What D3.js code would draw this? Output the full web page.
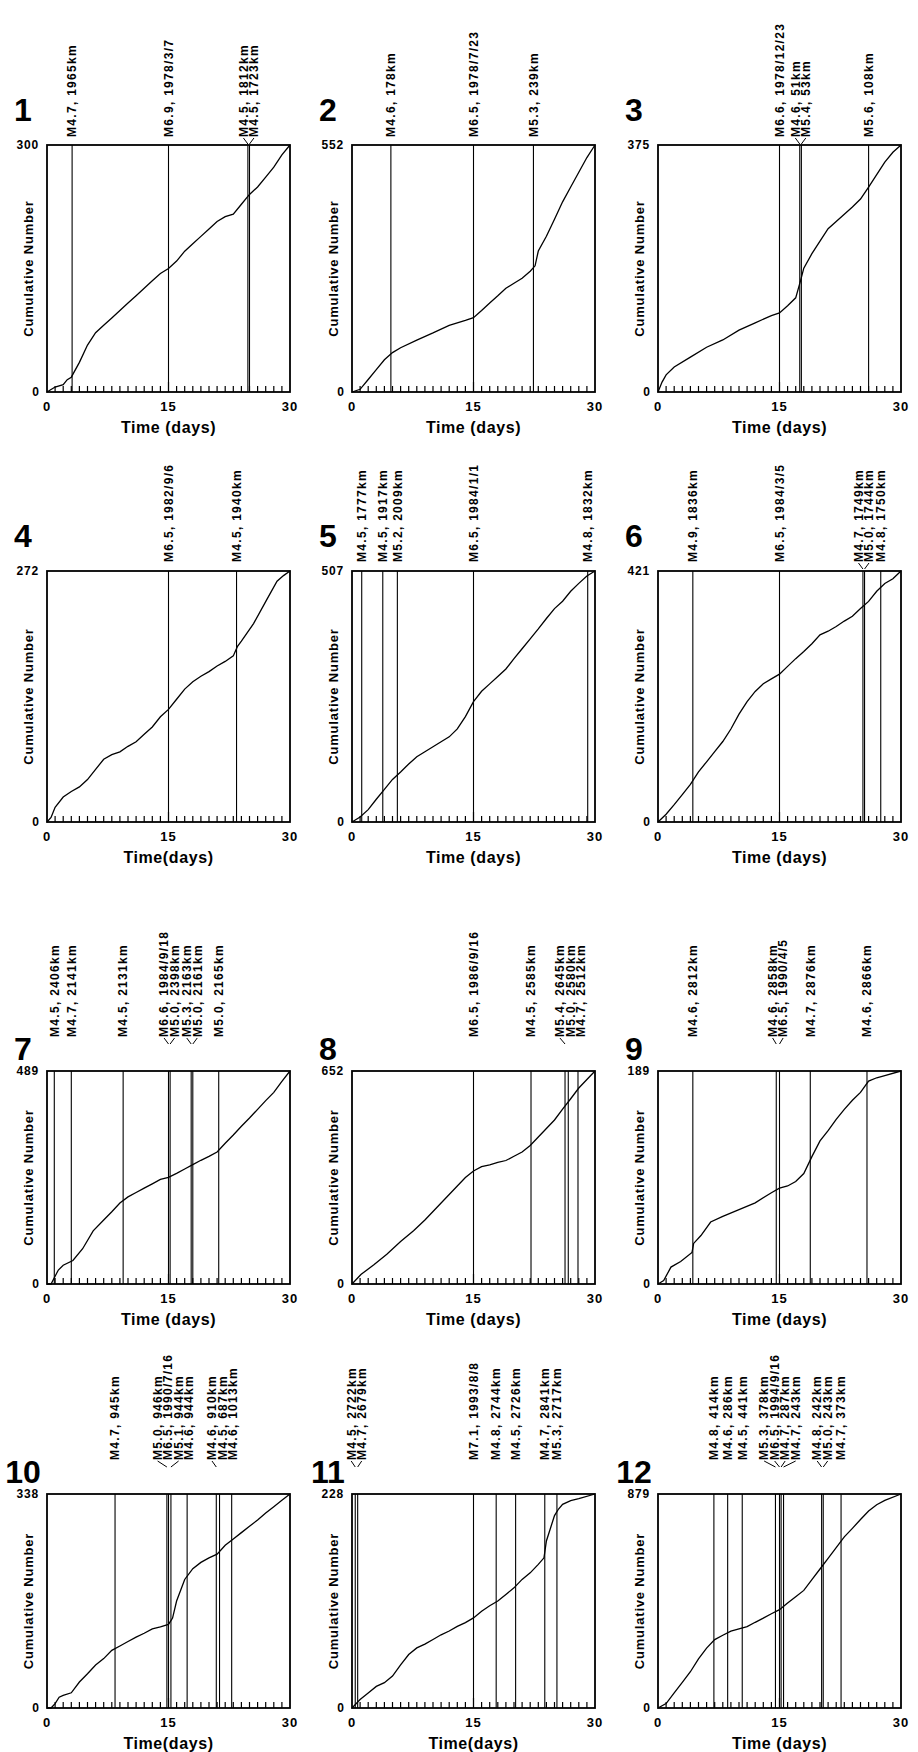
<!DOCTYPE html>
<html>
<head>
<meta charset="utf-8">
<script src="https://cdn.jsdelivr.net/npm/d3@7"></script>
<style>
  body { margin: 0; background: #fff; }
  svg text { font-family: "Liberation Sans", Arial, sans-serif; font-weight: bold; fill: #000; }
</style>
</head>
<body>
<script>
// panel numbers and the top value of each y axis
var panelIds = ["1", "2", "3", "4", "5", "6", "7", "8", "9", "10", "11", "12"];
var yMax = [300, 552, 375, 272, 507, 421, 489, 652, 189, 338, 228, 879];
var xTicks = [0, 15, 30];
var xTitles = ["Time (days)", "Time (days)", "Time (days)", "Time(days)", "Time (days)", "Time (days)",
    "Time (days)", "Time (days)", "Time (days)", "Time(days)", "Time(days)", "Time (days)"];

// large events: day of occurrence
var eventDays = [
    [3.1, 15, 24.8, 25.0],
    [4.8, 15, 22.4],
    [15, 17.5, 17.7, 26],
    [15, 23.4],
    [1.2, 3.8, 5.6, 15, 29.1],
    [4.3, 15, 25.3, 25.5, 27.5],
    [0.9, 3.0, 9.4, 15, 15.2, 17.8, 18.0, 21.2],
    [15, 22.1, 26.3, 26.7, 27.9],
    [4.3, 14.6, 15, 18.8, 25.8],
    [8.4, 14.8, 15, 15.3, 17.3, 20.9, 21.3, 22.8],
    [0.4, 0.7, 15, 17.8, 20.2, 23.8, 25.3],
    [6.9, 8.6, 10.4, 14.5, 15, 15.2, 15.5, 20.2, 20.4, 22.6]
];

// large events: magnitude and distance / date
var eventLabels = [
    ["M4.7, 1965km", "M6.9, 1978/3/7", "M4.5, 1812km", "M4.5, 1723km"],
    ["M4.6, 178km", "M6.5, 1978/7/23", "M5.3, 239km"],
    ["M6.6, 1978/12/23", "M4.6, 51km", "M5.4, 53km", "M5.6, 108km"],
    ["M6.5, 1982/9/6", "M4.5, 1940km"],
    ["M4.5, 1777km", "M4.5, 1917km", "M5.2, 2009km", "M6.5, 1984/1/1", "M4.8, 1832km"],
    ["M4.9, 1836km", "M6.5, 1984/3/5", "M4.7, 1749km", "M5.0, 1744km", "M4.8, 1750km"],
    ["M4.5, 2406km", "M4.7, 2141km", "M4.5, 2131km", "M6.6, 1984/9/18", "M5.0, 2398km",
        "M5.3, 2163km", "M5.0, 2161km", "M5.0, 2165km"],
    ["M6.5, 1986/9/16", "M4.5, 2585km", "M5.4, 2645km", "M5.0, 2580km", "M4.7, 2512km"],
    ["M4.6, 2812km", "M4.6, 2858km", "M6.5, 1990/4/5", "M4.7, 2876km", "M4.6, 2866km"],
    ["M4.7, 945km", "M5.0, 946km", "M6.5, 1990/7/16", "M5.1, 944km", "M4.6, 944km",
        "M4.6, 910km", "M4.5, 687km", "M4.6, 1013km"],
    ["M4.5, 2722km", "M4.7, 2679km", "M7.1, 1993/8/8", "M4.8, 2744km", "M4.5, 2726km",
        "M4.7, 2841km", "M5.3, 2717km"],
    ["M4.8, 414km", "M4.6, 286km", "M4.5, 441km", "M5.3, 378km", "M6.5, 1994/9/16",
        "M4.7, 287km", "M4.7, 243km", "M4.8, 242km", "M5.0, 243km", "M4.7, 373km"]
];

// cumulative number of events: [day, count]
var curves = [
    [[0,0],[0.5,3],[1,6],[2,9],[2.5,15],[3,18],[4,36],[5,57],[6,72],[7,81],[8,90],[9,99],[10,108],[11,117],[12,126],[13,135],[14,144],[15,150],[16,159],[17,171],[18,180],[19,189],[20,198],[21,207],[22,213],[23,216],[24,228],[25,240],[26,249],[27,261],[28,273],[29,288],[30,300]],
    [[0,0],[1,6],[2,28],[3,50],[4,72],[5,88],[6,99],[8,116],[10,132],[12,149],[14,160],[15,166],[16,182],[17,199],[18,215],[19,232],[20,243],[21,254],[22,270],[22.6,282],[23,315],[24,348],[25,386],[26,425],[27,458],[28,491],[29,524],[30,552]],
    [[0,0],[0.5,15],[1,26],[2,38],[4,53],[6,68],[8,79],[10,94],[12,105],[14,116],[15,120],[16,131],[17,143],[17.6,169],[18,188],[19,210],[20,229],[21,248],[22,259],[23,270],[24,281],[25,293],[26,311],[27,330],[28,349],[29,364],[30,375]],
    [[0,0],[0.5,5],[1,16],[2,27],[3,33],[4,38],[5,46],[6,57],[7,68],[8,73],[9,76],[10,82],[11,87],[12,95],[13,103],[14,114],[15,122],[16,133],[17,144],[18,152],[19,158],[20,163],[21,169],[22,174],[23,180],[23.5,190],[24,196],[25.5,215],[27.2,242],[28.4,261],[29.2,267],[30,272]],
    [[0,0],[1,10],[2,25],[3,46],[4,66],[5,86],[6,101],[7,117],[8,132],[9,142],[10,152],[11,162],[12,172],[13,188],[14,213],[15,243],[16,264],[17,279],[18,294],[19,309],[20,330],[21,350],[22,370],[23,390],[24,411],[25,431],[26,446],[27,466],[28,482],[29,497],[30,507]],
    [[0,0],[1,13],[2,29],[3,46],[4,63],[5,84],[6,101],[7,118],[8,135],[9,156],[10,181],[11,202],[12,219],[13,232],[14,240],[15,248],[16,261],[17,274],[18,286],[19,299],[20,314],[21,320],[22,328],[23,337],[24,345],[25,358],[26,370],[27,387],[28,400],[29,408],[30,421]],
    [[0,0],[0.5,0],[1.4,32],[2,43],[3.2,54],[4.4,81],[5.7,122],[7,147],[8,166],[9,186],[10,200],[11,210],[12,220],[13,230],[14,240],[15,245],[16,254],[17,264],[18,274],[19,284],[20,293],[21,303],[22,323],[23,342],[24,362],[25,381],[26,401],[27,421],[28,440],[29,465],[30,489]],
    [[0,0],[1.1,29],[2.7,59],[4.3,91],[6,130],[7.6,163],[9,196],[10,222],[11,248],[12,274],[13,300],[14,326],[15,346],[16,359],[17,365],[18,372],[19,378],[20,391],[21,404],[22,424],[23,450],[24,476],[25,502],[26,535],[27,567],[28,600],[29,626],[30,652]],
    [[0,0],[0.7,3],[1.6,15],[2.8,20],[4.2,28],[4.4,36],[5.3,43],[6.5,55],[8,60],[10,66],[12,72],[14,81],[15,85],[16,87],[17,91],[18,98],[19,113],[20,127],[21,136],[22,146],[23,155],[24,163],[25,170],[26,180],[27,183],[28,185],[30,189]],
    [[0,0],[0.5,0],[1,7],[1.5,17],[2,20],[3,24],[4,41],[5,54],[6,68],[7,78],[8,91],[9,98],[10,105],[11,112],[12,118],[13,125],[14,128],[15,132],[15.5,142],[16,169],[17,203],[18,220],[19,230],[20,237],[21,243],[22,257],[23,267],[24,277],[25,287],[26,297],[27,308],[28,318],[29,328],[30,338]],
    [[0,0],[1,9],[2,16],[3,23],[4,27],[5,34],[6,46],[7,57],[8,64],[9,68],[10,73],[11,78],[12,82],[13,87],[14,91],[15,96],[16,103],[17,109],[18,114],[19,121],[20,128],[21,137],[22,144],[23,153],[23.7,160],[24,178],[25,205],[25.5,212],[26,217],[27,221],[28,223],[30,228]],
    [[0,0],[1,18],[2,62],[3,105],[4,149],[5,202],[6,246],[7,281],[8,299],[9,316],[10,325],[11,334],[12,352],[13,369],[14,387],[15,404],[16,431],[17,457],[18,483],[19,527],[20,571],[21,615],[22,659],[23,703],[24,738],[25,774],[26,809],[27,835],[28,853],[30,879]]
];

// page layout
var width = 918, height = 1752;
var cols = [47, 352, 658];
var boxWidth = 243;
var rows = [
    { top: 145, bottom: 392, labelGap: 8, numberGap: 24 },
    { top: 571, bottom: 822, labelGap: 9, numberGap: 24 },
    { top: 1071, bottom: 1284, labelGap: 34, numberGap: 11 },
    { top: 1494, bottom: 1708, labelGap: 34, numberGap: 11 }
];

var svg = d3.select("body").append("svg")
    .attr("width", width)
    .attr("height", height)
    .style("background-color", "#fff");

// push labels apart so they do not overlap, keeping each group centred on its lines
function spreadLabels(xs, gap) {
    var groups = xs.map(function(x) { return { sum: x, n: 1, start: x }; });
    var merged = true;
    while (merged) {
        merged = false;
        for (var i = 0; i < groups.length - 1; i++) {
            var a = groups[i], b = groups[i + 1];
            if (a.start + a.n * gap > b.start) {
                var n = a.n + b.n, sum = a.sum + b.sum;
                groups.splice(i, 2, { sum: sum, n: n, start: sum / n - (n - 1) * gap / 2 });
                merged = true;
                break;
            }
        }
    }
    var out = [];
    groups.forEach(function(g) {
        for (var k = 0; k < g.n; k++) out.push(g.start + k * gap);
    });
    return out;
}

panelIds.forEach(function(id, i) {
    var row = rows[Math.floor(i / 3)];
    var x0 = cols[i % 3];

    var x = d3.scaleLinear().domain([0, 30]).range([x0, x0 + boxWidth]);
    var y = d3.scaleLinear().domain([0, yMax[i]]).range([row.bottom, row.top]);

    var g = svg.append("g").attr("class", "panel");

    // event lines
    g.selectAll("line.event")
        .data(eventDays[i])
        .enter().append("line")
        .attr("class", "event")
        .attr("x1", function(d) { return x(d); })
        .attr("x2", function(d) { return x(d); })
        .attr("y1", y(0))
        .attr("y2", y(yMax[i]))
        .style("stroke", "#000")
        .style("stroke-width", 1.1);

    // minor ticks along the bottom, one per day
    g.selectAll("line.tick")
        .data(d3.range(1, 30))
        .enter().append("line")
        .attr("class", "tick")
        .attr("x1", function(d) { return x(d); })
        .attr("x2", function(d) { return x(d); })
        .attr("y1", y(0))
        .attr("y2", function(d) { return y(0) - (d === 15 ? 10 : 6); })
        .style("stroke", "#000")
        .style("stroke-width", 1.2);

    // cumulative curve
    var line = d3.line()
        .x(function(d) { return x(d[0]); })
        .y(function(d) { return y(d[1]); });

    g.append("path")
        .datum(curves[i])
        .attr("d", line)
        .style("fill", "none")
        .style("stroke", "#000")
        .style("stroke-width", 1.3);

    // frame
    g.append("rect")
        .attr("x", x(0))
        .attr("y", y(yMax[i]))
        .attr("width", x(30) - x(0))
        .attr("height", y(0) - y(yMax[i]))
        .style("fill", "none")
        .style("stroke", "#000")
        .style("stroke-width", 1.8);

    // y axis values
    g.append("text")
        .attr("x", x(0) - 8)
        .attr("y", y(yMax[i]) + 4)
        .style("text-anchor", "end")
        .style("font-size", "12px")
        .style("letter-spacing", "0.8px")
        .text(yMax[i]);

    g.append("text")
        .attr("x", x(0) - 8)
        .attr("y", y(0) + 4)
        .style("text-anchor", "end")
        .style("font-size", "12px")
        .text(0);

    // x axis values and titles
    g.selectAll("text.xtick")
        .data(xTicks)
        .enter().append("text")
        .attr("class", "xtick")
        .attr("x", function(d) { return x(d); })
        .attr("y", y(0) + 19)
        .style("text-anchor", "middle")
        .style("font-size", "13px")
        .style("letter-spacing", "1px")
        .text(function(d) { return d; });

    g.append("text")
        .attr("x", x(15))
        .attr("y", y(0) + 41)
        .style("text-anchor", "middle")
        .style("font-size", "16px")
        .style("letter-spacing", "0.6px")
        .text(xTitles[i]);

    g.append("text")
        .attr("transform", "translate(" + (x(0) - 14) + "," + ((y(0) + y(yMax[i])) / 2) + ") rotate(-90)")
        .style("text-anchor", "middle")
        .style("font-size", "13px")
        .style("letter-spacing", "0.8px")
        .text("Cumulative Number");

    // panel number
    g.append("text")
        .attr("x", x(0) - 24)
        .attr("y", row.top - row.numberGap)
        .style("text-anchor", "middle")
        .style("font-size", "32px")
        .text(id);

    // event labels above the frame
    var lineX = eventDays[i].map(function(d) { return x(d); });
    var labelX = spreadLabels(lineX, 10.5);
    var labelBottom = row.top - row.labelGap;

    g.selectAll("text.event")
        .data(eventLabels[i])
        .enter().append("text")
        .attr("class", "event")
        .attr("transform", function(d, k) {
            return "translate(" + (labelX[k] + 4.3) + "," + labelBottom + ") rotate(-90)";
        })
        .style("text-anchor", "start")
        .style("font-size", "12px")
        .style("letter-spacing", "1.3px")
        .text(function(d) { return d; });

    // small leaders where a label had to move off its line
    g.selectAll("line.leader")
        .data(lineX.filter(function(d, k) { return Math.abs(labelX[k] - d) > 3; })
            .map(function(d) { return [d, labelX[lineX.indexOf(d)]]; }))
        .enter().append("line")
        .attr("class", "leader")
        .attr("x1", function(d) { return d[1]; })
        .attr("x2", function(d) { return d[0]; })
        .attr("y1", labelBottom + 1)
        .attr("y2", labelBottom + 7)
        .style("stroke", "#000")
        .style("stroke-width", 1);
});
</script>
</body>
</html>
